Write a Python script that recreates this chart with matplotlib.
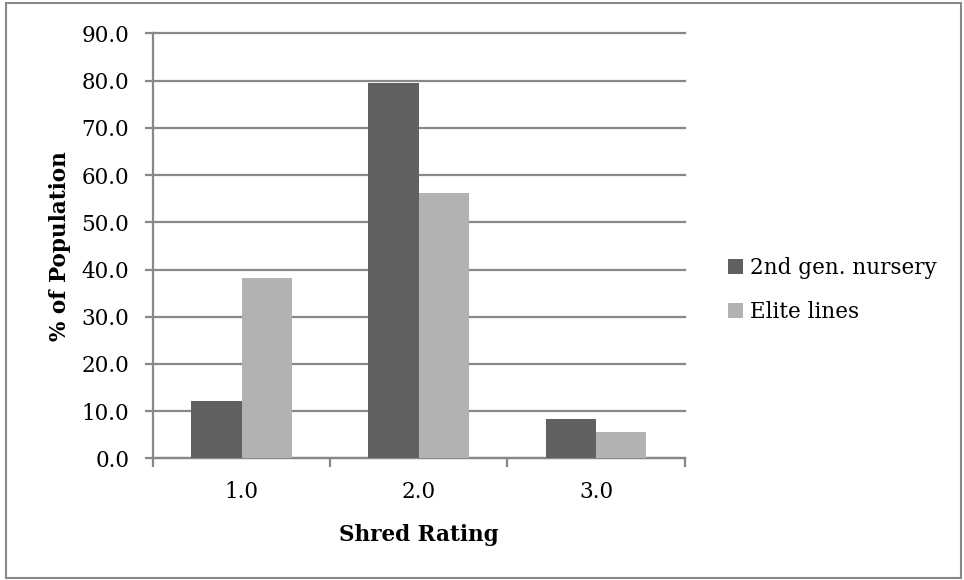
import matplotlib
matplotlib.use("Agg")
import matplotlib.pyplot as plt
from matplotlib.patches import Rectangle
import numpy as np

categories = ["1.0", "2.0", "3.0"]
series_names = ["2nd gen. nursery", "Elite lines"]
nursery = [12.2, 79.5, 8.3]
elite = [38.2, 56.3, 5.5]
yticks = [0, 10, 20, 30, 40, 50, 60, 70, 80, 90]

plt.rcParams['font.family'] = ['DejaVu Serif']

W, H = 964, 580
fig = plt.figure(figsize=(W / 100, H / 100), dpi=100)
ax = fig.add_axes([152.9 / W, 1 - 458.3 / H, (684.6 - 152.9) / W, (458.3 - 33.5) / H])

dark = '#616161'
light = '#b2b2b2'
grid = '#888888'
fs = 15.5

x = np.arange(1, len(categories) + 1)
w = 0.2845
ax.bar(x - w / 2, nursery, width=w, color=dark, label=series_names[0], zorder=3)
ax.bar(x + w / 2, elite, width=w, color=light, label=series_names[1], zorder=3)

ax.set_xlim(0.5, len(categories) + 0.5)
ax.set_ylim(0, 90)
ax.set_yticks(yticks)
ax.set_yticklabels([f"{v:.1f}" for v in yticks])
ax.yaxis.grid(True, color=grid, linewidth=1.6, zorder=0)
ax.set_axisbelow(True)
for gl in ax.get_ygridlines():
    gl.set_clip_on(False)

ax.set_xticks(x)
ax.set_xticklabels(categories)
ax.set_xticks(np.arange(0.5, len(categories) + 1, 1.0), minor=True)
ax.tick_params(axis='x', which='major', length=0, pad=16, labelsize=fs)
ax.tick_params(axis='x', which='minor', length=6.5, width=1.6, color=grid, direction='out')
ax.tick_params(axis='y', length=6, width=1.6, color=grid, pad=11, labelsize=fs)

for s in ['top', 'right']:
    ax.spines[s].set_visible(False)
for s in ['left', 'bottom']:
    ax.spines[s].set_color(grid)
    ax.spines[s].set_linewidth(1.6)

ax.set_xlabel("Shred Rating", fontsize=fs, fontweight='bold')
ax.xaxis.set_label_coords(0.5, -0.18)
ax.xaxis.label.set_va('center')
ax.set_ylabel("% of Population", fontsize=fs, fontweight='bold')
ax.yaxis.set_label_coords((60 - 152.9) / 531.7, 0.5)
ax.yaxis.label.set_va('center')

fig.legend(loc='center left', bbox_to_anchor=(709 / W, 1 - 290 / H), frameon=False,
           fontsize=fs, handlelength=0.7, handleheight=0.7, handletextpad=0.3,
           labelspacing=1.05)

fig.add_artist(Rectangle((6 / W, 2 / H), (961 - 6) / W, (577 - 2) / H,
                         transform=fig.transFigure, fill=False,
                         edgecolor=grid, linewidth=1.5))

fig.savefig("out.png", dpi=100)
